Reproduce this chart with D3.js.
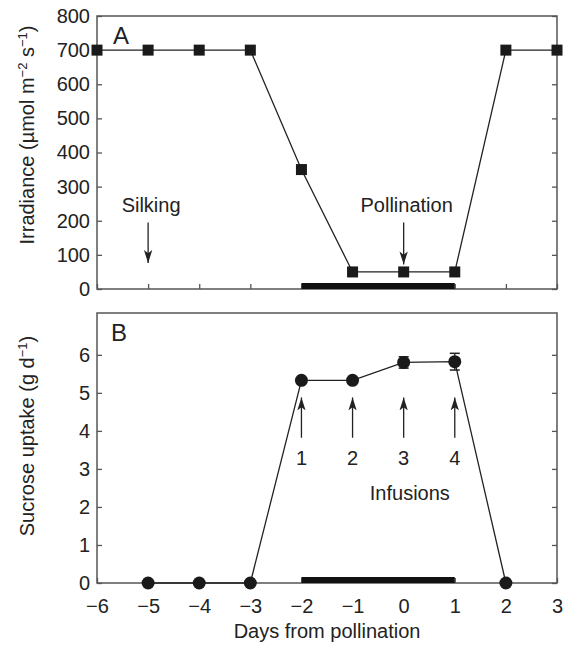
<!DOCTYPE html>
<html>
<head>
<meta charset="utf-8">
<script src="https://cdn.jsdelivr.net/npm/d3@7"></script>
<style>
  body { margin: 0; background: #fff; }
  text { font-family: "Liberation Sans", Arial, sans-serif; fill: #222; }
</style>
</head>
<body>
<div id="chart"></div>
<script>
// panel A: irradiance
var days = [-6, -5, -4, -3, -2, -1, 0, 1, 2, 3];
var irradiance = [700, 700, 700, 700, 350, 50, 50, 50, 700, 700];
// panel B: sucrose uptake
var uptakeDays = [-5, -4, -3, -2, -1, 0, 1, 2];
var uptake = [0, 0, 0, 5.33, 5.33, 5.8, 5.82, 0];
var uptakeErr = [0, 0, 0, 0, 0, 0.15, 0.22, 0];
// ticks
var xTicks = [-6, -5, -4, -3, -2, -1, 0, 1, 2, 3];
var aTicks = [0, 100, 200, 300, 400, 500, 600, 700, 800];
var bTicks = [0, 1, 2, 3, 4, 5, 6];
// pollination treatment window
var barRange = [-2, 1];
// annotations
var aArrows = [{ x: -5, from: 195, to: 76, label: "Silking", ly: 226 },
               { x: 0, from: 195, to: 72, label: "Pollination", ly: 226 }];
var bArrows = [{ x: -2, label: "1" }, { x: -1, label: "2" }, { x: 0, label: "3" }, { x: 1, label: "4" }];

render();

function render() {
  var W = 566, H = 645;
  var svg = d3.select("#chart").append("svg")
    .attr("width", W).attr("height", H);

  svg.append("defs").append("marker")
    .attr("id", "head")
    .attr("viewBox", "0 0 10 10")
    .attr("refX", 10).attr("refY", 5)
    .attr("markerWidth", 13).attr("markerHeight", 13)
    .attr("markerUnits", "userSpaceOnUse")
    .attr("orient", "auto")
    .append("path")
    .attr("d", "M0,1.8 L10,5 L0,8.2 L2.5,5 Z")
    .attr("fill", "#222");

  var x = d3.scaleLinear().domain([-6, 3]).range([97, 557]);
  var yA = d3.scaleLinear().domain([0, 800]).range([289, 16]);
  var yB = d3.scaleLinear().domain([0, 7.1]).range([583, 313]);

  var frameColor = "#555";
  var fs = "20px";

  function frame(y) {
    svg.append("rect")
      .attr("x", x.range()[0]).attr("y", y.range()[1])
      .attr("width", x.range()[1] - x.range()[0])
      .attr("height", y.range()[0] - y.range()[1])
      .attr("fill", "none").attr("stroke", frameColor).attr("stroke-width", 1.5);
  }

  function axes(y, yt, showX) {
    var gl = svg.append("g")
      .attr("transform", "translate(" + x.range()[0] + ",0)")
      .call(d3.axisLeft(y).tickValues(yt).tickSize(-5).tickPadding(7));
    var gr = svg.append("g")
      .attr("transform", "translate(" + x.range()[1] + ",0)")
      .call(d3.axisRight(y).tickValues(yt).tickSize(-5).tickFormat(""));
    var gb = svg.append("g")
      .attr("transform", "translate(0," + y.range()[0] + ")")
      .call(d3.axisBottom(x).tickValues(xTicks).tickSize(-5).tickPadding(16)
        .tickFormat(showX ? d3.format("d") : ""));
    [gl, gr, gb].forEach(function (g) {
      g.select(".domain").remove();
      g.selectAll("line").attr("stroke", frameColor).attr("stroke-width", 1.3);
      g.selectAll("text").style("font-size", fs).attr("fill", "#222")
        .style("font-family", "'Liberation Sans', Arial, sans-serif");
    });
    // thick bar on the x axis
    svg.append("rect")
      .attr("x", x(barRange[0])).attr("width", x(barRange[1]) - x(barRange[0]))
      .attr("y", y.range()[0] - 6).attr("height", 6)
      .attr("fill", "#111");
  }

  // ---- panel A
  frame(yA);
  axes(yA, aTicks, false);

  var lineA = d3.line()
    .x(function (d, i) { return x(days[i]); })
    .y(function (d) { return yA(d); });
  svg.append("path").datum(irradiance)
    .attr("d", lineA).attr("fill", "none")
    .attr("stroke", "#222").attr("stroke-width", 1.3);
  svg.selectAll(".sq").data(irradiance).enter().append("rect")
    .attr("x", function (d, i) { return x(days[i]) - 5.5; })
    .attr("y", function (d) { return yA(d) - 5.5; })
    .attr("width", 11).attr("height", 11)
    .attr("fill", "#1a1a1a");

  aArrows.forEach(function (a) {
    svg.append("line")
      .attr("x1", x(a.x)).attr("x2", x(a.x))
      .attr("y1", yA(a.from)).attr("y2", yA(a.to))
      .attr("stroke", "#222").attr("stroke-width", 1.3)
      .attr("marker-end", "url(#head)");
    svg.append("text")
      .attr("x", x(a.x) + 3).attr("y", yA(a.ly))
      .attr("text-anchor", "middle").style("font-size", fs)
      .text(a.label);
  });

  svg.append("text").attr("x", 113).attr("y", 44)
    .style("font-size", "24px").text("A");

  var labA = svg.append("text")
    .attr("transform", "translate(34,135) rotate(-90)")
    .attr("text-anchor", "middle").style("font-size", fs);
  labA.append("tspan").text("Irradiance (\u00b5mol m");
  labA.append("tspan").attr("dy", -7).style("font-size", "13px").text("\u22122");
  labA.append("tspan").attr("dy", 7).text(" s");
  labA.append("tspan").attr("dy", -7).style("font-size", "13px").text("\u22121");
  labA.append("tspan").attr("dy", 7).text(")");

  // ---- panel B
  frame(yB);
  axes(yB, bTicks, true);

  var lineB = d3.line()
    .x(function (d, i) { return x(uptakeDays[i]); })
    .y(function (d) { return yB(d); });
  svg.append("path").datum(uptake)
    .attr("d", lineB).attr("fill", "none")
    .attr("stroke", "#222").attr("stroke-width", 1.3);

  uptake.forEach(function (d, i) {
    var e = uptakeErr[i];
    if (e > 0) {
      var cx = x(uptakeDays[i]);
      svg.append("line")
        .attr("x1", cx).attr("x2", cx)
        .attr("y1", yB(d - e)).attr("y2", yB(d + e))
        .attr("stroke", "#222").attr("stroke-width", 1.3);
      [d - e, d + e].forEach(function (v) {
        svg.append("line")
          .attr("x1", cx - 5).attr("x2", cx + 5)
          .attr("y1", yB(v)).attr("y2", yB(v))
          .attr("stroke", "#222").attr("stroke-width", 1.5);
      });
    }
  });
  svg.selectAll(".dot").data(uptake).enter().append("circle")
    .attr("cx", function (d, i) { return x(uptakeDays[i]); })
    .attr("cy", function (d) { return yB(d); })
    .attr("r", 6.5).attr("fill", "#1a1a1a");

  bArrows.forEach(function (a) {
    svg.append("line")
      .attr("x1", x(a.x)).attr("x2", x(a.x))
      .attr("y1", yB(3.82)).attr("y2", yB(4.88))
      .attr("stroke", "#222").attr("stroke-width", 1.3)
      .attr("marker-end", "url(#head)");
    svg.append("text")
      .attr("x", x(a.x)).attr("y", yB(3.1))
      .attr("text-anchor", "middle").style("font-size", fs)
      .text(a.label);
  });
  svg.append("text").attr("x", x(0.12)).attr("y", yB(2.18))
    .attr("text-anchor", "middle").style("font-size", fs).text("Infusions");

  svg.append("text").attr("x", 111).attr("y", 341)
    .style("font-size", "24px").text("B");

  var labB = svg.append("text")
    .attr("transform", "translate(34,436) rotate(-90)")
    .attr("text-anchor", "middle").style("font-size", fs);
  labB.append("tspan").text("Sucrose uptake (g d");
  labB.append("tspan").attr("dy", -7).style("font-size", "13px").text("\u22121");
  labB.append("tspan").attr("dy", 7).text(")");

  svg.append("text").attr("x", 327).attr("y", 638)
    .attr("text-anchor", "middle").style("font-size", fs)
    .text("Days from pollination");
}
</script>
</body>
</html>
